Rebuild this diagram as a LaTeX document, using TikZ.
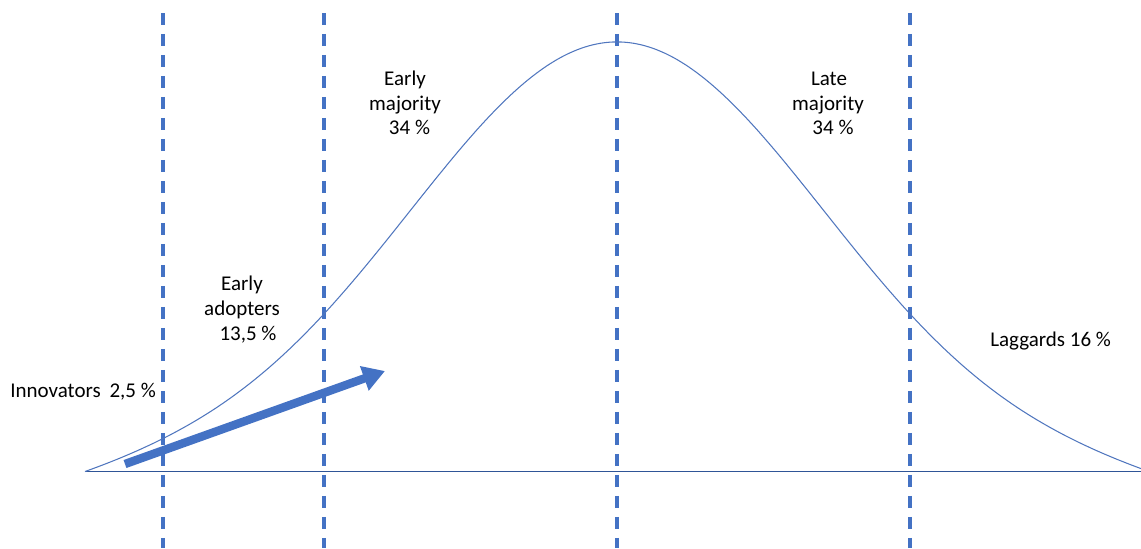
\documentclass[tikz,border=0pt]{standalone}
\usepackage{fontspec}
\setmainfont{Carlito}
\usetikzlibrary{arrows.meta}
\definecolor{accent}{RGB}{68,114,196}
\definecolor{axisblue}{RGB}{47,85,151}
\definecolor{curveblue}{RGB}{80,118,190}
\begin{document}
\begin{tikzpicture}[x=0.02cm,y=-0.02cm,
  lbl/.style={font=\fontsize{11.95}{14.2}\selectfont, inner sep=0pt, anchor=base, text=black},
  divider/.style={draw=accent, line width=2.1pt, dash pattern=on 0.25cm off 0.17cm},
  baseaxis/.style={draw=axisblue, line width=0.75pt},
  bell/.style={draw=curveblue, line width=0.6pt},
  adoption/.style={draw=accent, line width=4.8pt, -{Triangle[length=12.5pt,width=14pt]}, fill=accent},
  declare function={taper(\t)=1-(abs(\t)/532)^12; gauss(\t)=exp(-0.5*(abs(\t)/207)*(abs(\t)/207));}
]
\useasboundingbox (0,0) rectangle (1141,548);
% dividers
\foreach \n/\xx in {1/163,2/324,3/617,4/910}{
  \coordinate (d\n t) at (\xx,13);
  \coordinate (d\n b) at (\xx,548);
}
\foreach \n in {1,2,3,4}{ \draw[divider] (d\n t) -- (d\n b); }
% baseline
\coordinate (b0) at (85,471.5);
\coordinate (b1) at (1141,471.5);
\draw[baseaxis] (b0) -- (b1);
% bell curve
\draw[bell] plot[domain=85:1141, samples=265, smooth] (\x, {471.5 - 429.5*gauss(\x-617)*taper(\x-617)});
% arrow
\coordinate (atail) at (125,464);
\coordinate (atip) at (385,371);
\draw[adoption] (atail) -- (atip);
% labels
\node[lbl, anchor=base west] (innov) at (10,397) {Innovators\hspace{0.42em}2,5 \%};
\node[lbl] (ea1) at (242,290) {Early};
\node[lbl] (ea2) at (242,315) {adopters};
\node[lbl] (ea3) at (248,340) {13,5 \%};
\node[lbl] (em1) at (405,85) {Early};
\node[lbl] (em2) at (405,110) {majority};
\node[lbl] (em3) at (409.5,134) {34 \%};
\node[lbl] (lm1) at (829,85) {Late};
\node[lbl] (lm2) at (828,110) {majority};
\node[lbl] (lm3) at (833,134) {34 \%};
\node[lbl, anchor=base west] (lag) at (990,346) {Laggards 16 \%};
\end{tikzpicture}
\end{document}
